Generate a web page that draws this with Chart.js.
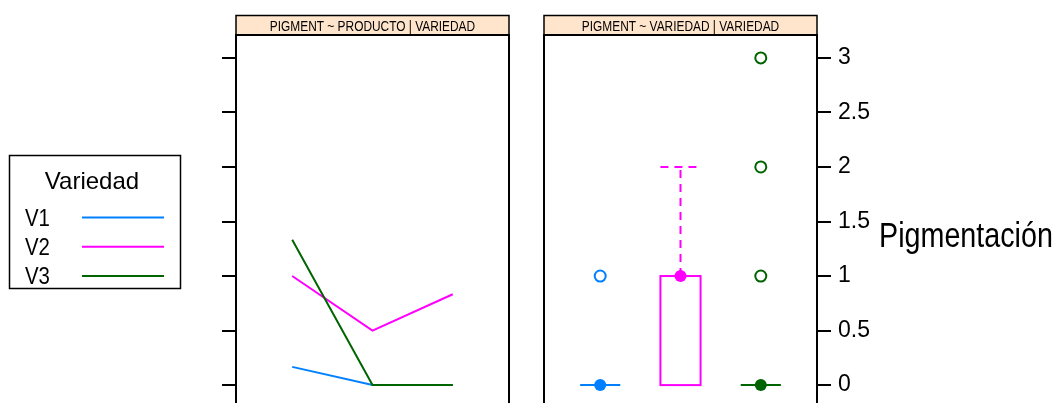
<!DOCTYPE html>
<html>
<head>
<meta charset="utf-8">
<script src="https://cdn.jsdelivr.net/npm/chart.js@4.4.1/dist/chart.umd.min.js"></script>
<style>
  html, body { margin: 0; padding: 0; overflow: hidden; background: #fff; width: 1056px; height: 403px; }
  canvas { position: absolute; left: 0; top: 0; }
</style>
</head>
<body>
<canvas id="lineas" width="1056" height="408"></canvas>
<canvas id="cajas" width="1056" height="408"></canvas>
<script>
// ---- data ----
const productos = ['P1', 'P2', 'P3'];
const variedades = ['V1', 'V2', 'V3'];
const colores = ['#0080ff', '#ff00ff', '#006400'];

// mean pigmentation per product, one array per variety
const mediaV1 = [0.167, 0, 0];
const mediaV2 = [1, 0.5, 0.833];
const mediaV3 = [1.333, 0, 0];

// box-plot summaries per variety
const bigoteInf = [0, 0, 0];
const cuartil1 = [0, 0, 0];
const mediana = [0, 1, 0];
const cuartil3 = [0, 1, 0];
const bigoteSup = [0, 2, 0];
const atipicosV1 = [1];
const atipicosV2 = [];
const atipicosV3 = [1, 2, 3];

const yTicks = [0, 0.5, 1, 1.5, 2, 2.5, 3];
const tituloIzq = 'PIGMENT ~ PRODUCTO | VARIEDAD';
const tituloDer = 'PIGMENT ~ VARIEDAD | VARIEDAD';
const tituloEje = 'Pigmentación';
const tituloLeyenda = 'Variedad';

// ---- shared settings ----
const FUENTE = '"Liberation Sans", Arial, Helvetica, sans-serif';
const yMin = -0.21, yMax = 3.21;
const xMin = -0.7, xMax = 2.7;
const mediaCaja = 0.25;

Chart.defaults.font.family = FUENTE;
Chart.defaults.color = '#000';

function ejeY(position, conEtiquetas) {
  return {
    type: 'linear', position, min: yMin, max: yMax,
    afterBuildTicks: s => { s.ticks = yTicks.map(v => ({ value: v })); },
    afterFit: s => { s.width = conEtiquetas ? 60 : 14; s.paddingTop = 0; s.paddingBottom = 0; },
    grid: { display: true, drawOnChartArea: false, drawTicks: true, tickLength: 14,
            tickWidth: 2, tickColor: '#000', color: '#000', lineWidth: 2 },
    border: { display: false },
    ticks: { display: conEtiquetas, padding: 7, color: '#000',
             font: { family: FUENTE, size: 23 }, callback: v => String(v) }
  };
}

function ejeX() {
  return { type: 'linear', min: xMin, max: xMax, display: false };
}

// strip header and panel frame (left, top, right edges)
function marcoPanel(titulo) {
  return {
    id: 'marcoPanel',
    afterDraw(chart) {
      const { ctx, chartArea: a } = chart;
      ctx.save();
      ctx.fillStyle = '#ffe5cc';
      ctx.fillRect(a.left, 15, a.right - a.left, a.top - 15);
      ctx.strokeStyle = '#000';
      ctx.lineWidth = 1.5;
      ctx.strokeRect(a.left, 15.5, a.right - a.left, a.top - 15.5);
      ctx.lineWidth = 2;
      ctx.beginPath();
      ctx.moveTo(a.left, chart.height);
      ctx.lineTo(a.left, a.top);
      ctx.lineTo(a.right, a.top);
      ctx.lineTo(a.right, chart.height);
      ctx.stroke();
      ctx.fillStyle = '#000';
      ctx.font = '14px ' + FUENTE;
      ctx.textAlign = 'center';
      ctx.textBaseline = 'alphabetic';
      ctx.translate((a.left + a.right) / 2, 30.5);
      ctx.scale(0.85, 1);
      ctx.fillText(titulo, 0, 0);
      ctx.restore();
    }
  };
}

// key for the line panel
const leyenda = {
  id: 'leyenda',
  afterDraw(chart) {
    const ctx = chart.ctx;
    ctx.save();
    ctx.strokeStyle = '#000';
    ctx.lineWidth = 1.5;
    ctx.strokeRect(9.5, 155.5, 171, 133);
    ctx.fillStyle = '#000';
    ctx.textBaseline = 'alphabetic';
    ctx.font = '24px ' + FUENTE;
    ctx.textAlign = 'center';
    ctx.fillText(tituloLeyenda, 92, 189);
    ctx.textAlign = 'left';
    chart.data.datasets.forEach((ds, i) => {
      const yl = 217.5 + i * 29.2;
      ctx.save();
      ctx.translate(25, 226 + i * 29.2);
      ctx.scale(0.85, 1);
      ctx.fillText(ds.label, 0, 0);
      ctx.restore();
      ctx.strokeStyle = ds.borderColor;
      ctx.lineWidth = 2;
      ctx.beginPath();
      ctx.moveTo(82, yl);
      ctx.lineTo(164, yl);
      ctx.stroke();
    });
    ctx.restore();
  }
};

// boxes and whiskers drawn through the chart scales
const cajas = {
  id: 'cajas',
  beforeDatasetsDraw(chart) {
    const { ctx, scales: { x, y } } = chart;
    ctx.save();
    ctx.lineWidth = 2;
    variedades.forEach((v, i) => {
      const xc = x.getPixelForValue(i);
      const xl = x.getPixelForValue(i - mediaCaja);
      const xr = x.getPixelForValue(i + mediaCaja);
      const y1 = y.getPixelForValue(cuartil1[i]);
      const y3 = y.getPixelForValue(cuartil3[i]);
      ctx.strokeStyle = colores[i];
      ctx.setLineDash([]);
      ctx.strokeRect(xl, y3, xr - xl, y1 - y3);
      ctx.setLineDash([8, 6]);
      if (bigoteSup[i] > cuartil3[i]) {
        const yh = y.getPixelForValue(bigoteSup[i]);
        ctx.beginPath();
        ctx.moveTo(xc, y3); ctx.lineTo(xc, yh);
        ctx.moveTo(xl, yh); ctx.lineTo(xr, yh);
        ctx.stroke();
      }
      if (bigoteInf[i] < cuartil1[i]) {
        const yb = y.getPixelForValue(bigoteInf[i]);
        ctx.beginPath();
        ctx.moveTo(xc, y1); ctx.lineTo(xc, yb);
        ctx.moveTo(xl, yb); ctx.lineTo(xr, yb);
        ctx.stroke();
      }
    });
    ctx.restore();
  }
};

const tituloY = {
  id: 'tituloY',
  afterDraw(chart) {
    const ctx = chart.ctx;
    ctx.save();
    ctx.fillStyle = '#000';
    ctx.font = '35px ' + FUENTE;
    ctx.textAlign = 'left';
    ctx.textBaseline = 'alphabetic';
    ctx.translate(879, 247);
    ctx.scale(0.82, 1);
    ctx.fillText(tituloEje, 0, 0);
    ctx.restore();
  }
};

// ---- left panel: means by product ----
const medias = [mediaV1, mediaV2, mediaV3];
new Chart(document.getElementById('lineas'), {
  type: 'line',
  data: {
    datasets: medias.map((serie, k) => ({
      label: variedades[k],
      data: serie.map((v, i) => ({ x: i, y: v })),
      borderColor: colores[k],
      borderWidth: 2,
      pointRadius: 0,
      tension: 0,
      fill: false,
      order: 2 - k
    }))
  },
  options: {
    responsive: false, animation: false,
    layout: { autoPadding: false, padding: { left: 222, right: 547, top: 35, bottom: 0 } },
    scales: { x: ejeX(), y: ejeY('left', false) },
    plugins: { legend: { display: false }, tooltip: { enabled: false } }
  },
  plugins: [marcoPanel(tituloIzq), leyenda]
});

// ---- right panel: box plots by variety ----
const atipicos = [atipicosV1, atipicosV2, atipicosV3];
new Chart(document.getElementById('cajas'), {
  type: 'scatter',
  data: {
    datasets: [
      {
        label: 'mediana',
        data: mediana.map((v, i) => ({ x: i, y: v })),
        pointRadius: 6,
        pointBackgroundColor: colores,
        pointBorderColor: colores,
        pointBorderWidth: 0,
        clip: false
      },
      ...atipicos.map((vals, i) => ({
        label: 'atípicos ' + variedades[i],
        data: vals.map(v => ({ x: i, y: v })),
        pointRadius: 5.5,
        pointBorderWidth: 2,
        pointBorderColor: colores[i],
        pointBackgroundColor: 'rgba(0,0,0,0)',
        clip: false
      }))
    ]
  },
  options: {
    responsive: false, animation: false,
    layout: { autoPadding: false, padding: { left: 544, right: 179, top: 35, bottom: 0 } },
    scales: { x: ejeX(), y: ejeY('right', true) },
    plugins: { legend: { display: false }, tooltip: { enabled: false } }
  },
  plugins: [marcoPanel(tituloDer), cajas, tituloY]
});
</script>
</body>
</html>
